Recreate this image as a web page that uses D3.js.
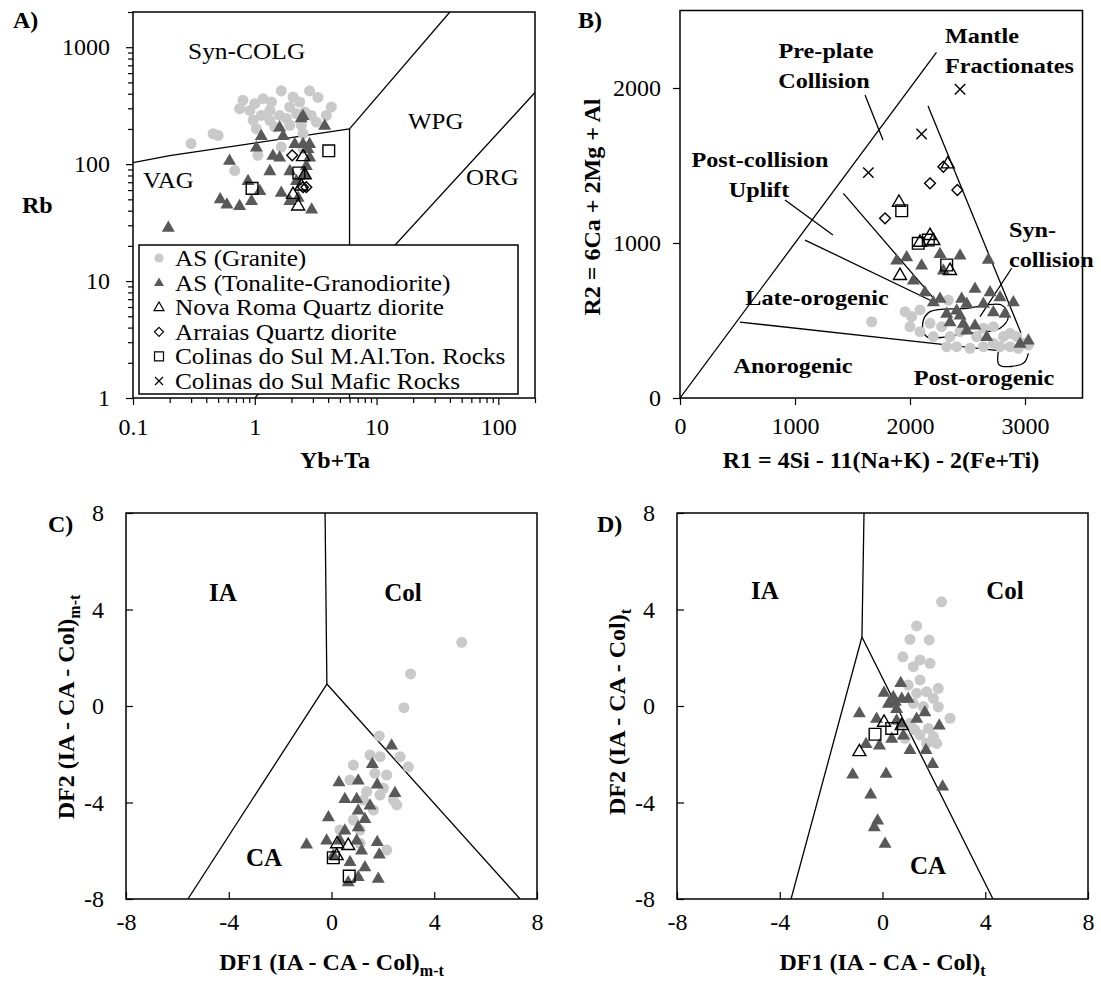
<!DOCTYPE html>
<html>
<head>
<meta charset="utf-8">
<script src="https://cdn.jsdelivr.net/npm/d3@7"></script>
<style>
  body { margin: 0; background: #fff; }
  svg text { font-family: "Liberation Serif", "Times New Roman", Times, serif; fill: #000; }
</style>
</head>
<body>
<svg id="fig" width="1101" height="981"></svg>
<script>
// ---------- Panel A: Rb vs Yb+Ta (Pearce et al. 1984) ----------
const aGranite = [[1.65,423],[2.82,423],[3.30,372],[0.80,351],[1.00,329],[1.17,363],[1.37,340],[2.06,375],[2.34,340],[4.25,308],[0.75,298],[0.91,288],[1.33,288],[1.13,261],[1.60,261],[1.94,308],[1.82,245],[2.20,270],[2.57,279],[2.91,261],[3.87,261],[0.97,237],[1.33,237],[1.94,215],[2.41,215],[3.20,229],[1.03,201],[1.46,208],[2.49,182],[0.455,182],[0.50,176],[0.30,150],[1.65,140],[1.06,119],[0.685,88],[2.49,136]];
const aTonalite = [[2.49,261],[2.41,249],[1.60,208],[3.75,215],[1.13,176],[1.71,176],[1.03,140],[2.13,150],[2.49,150],[2.82,150],[2.73,136],[1.41,119],[1.60,115],[0.62,108],[2.82,115],[1.33,88],[1.94,88],[2.65,97.5],[0.88,72.6],[2.57,82.7],[2.20,72.6],[1.10,59.5],[1.65,57.5],[0.94,48.9],[0.52,50.5],[0.59,45.7],[0.75,44.3],[1.94,48.9],[2.27,52.2],[2.93,41.4],[0.195,28.9]];
const aNovaRoma = [[2.49,117],[2.57,82],[2.06,55.7],[2.27,44.3],[2.41,65.6]];
const aArraias = [[2.03,119],[2.65,63.5],[2.49,63.5]];
const aColinasTon = [[4.05,130],[0.95,62],[2.3,84]];
const aBoundaries = [
  [[0.1,103],[0.2,118],[6,200]],
  [[6,200],[6,1]],
  [[6,200],[40,2000]],
  [[1,1],[200,410]]
];
const aXMajor = [0.1, 1, 10, 100];
const aYMajor = [1, 10, 100, 1000];

// ---------- Panel B: R1-R2 (Batchelor & Bowden 1985) ----------
const bGranite = [[1667,492],[1957,557],[2014,525],[2087,568],[2000,460],[2087,428],[2174,482],[2333,632],[2275,460],[2348,396],[2435,428],[2319,331],[2406,331],[2522,321],[2638,331],[2725,353],[2812,396],[2870,417],[2928,396],[2986,353],[2783,331],[2870,331],[2942,321],[2638,450],[2725,460],[2203,396],[2580,396],[3029,342]];
const bTonalite = [[1884,890],[1971,912],[2101,858],[2261,933],[2435,923],[2681,895],[2029,761],[2130,686],[2290,826],[2261,643],[2449,643],[2565,708],[2696,686],[2783,654],[2899,621],[2826,546],[2319,546],[2435,535],[2348,492],[2464,482],[2565,471],[2493,439],[2667,396],[2638,611],[2493,611],[2725,557],[3029,374],[2957,353],[2203,621],[2406,568]];
const bNovaRoma = [[2328,1514],[1904,1266],[2174,1052],[2087,1008],[2203,1019],[1913,794],[2348,826]];
const bArraias = [[2290,1492],[2174,1385],[2412,1342],[1783,1159]];
const bColinasTon = [[1928,1208],[2072,998],[2159,1019],[2319,858]];
const bMafic = [[2435,1992],[2101,1703],[1638,1454]];
const bBoundaries = [
  [[0,0],[2230,2230]],
  [[2157,1884],[2965,419]],
  [[1420,1320],[2210,640]],
  [[1087,1019],[2203,621]],
  [[520,490],[2200,352],[2770,305]],
  [[1609,1955],[1765,1665]],
  [[913,1277],[1330,1052]],
  [[2609,525],[2884,837]]
];
const bSynLoop = [[2174,557],[2493,578],[2797,600],[2855,525],[2783,450],[2493,417],[2145,396],[2110,482]];
const bPostLoop = [[2768,299],[2777,213],[2986,224],[3029,288]];
const bXTicks = [0, 1000, 2000, 3000];
const bYTicks = [0, 1000, 2000];

// ---------- Panel C: DF1-DF2 (IA-CA-Col) m-t ----------
const cGranite = [[5.07,2.64],[3.08,1.33],[2.82,-0.07],[1.86,-1.24],[1.50,-2.03],[1.89,-2.10],[0.85,-2.45],[2.67,-2.10],[2.99,-2.52],[2.15,-2.86],[1.69,-2.79],[0.72,-3.07],[1.37,-3.55],[1.89,-3.69],[2.41,-3.90],[2.54,-4.10],[1.63,-4.31],[1.24,-3.90],[0.85,-4.73],[1.11,-5.14],[0.33,-5.14],[1.11,-5.69],[2.15,-5.97],[2.02,-3.41]];
const cTonalite = [[2.34,-1.62],[1.59,-2.38],[0.29,-3.14],[1.04,-3.07],[1.78,-3.23],[2.47,-3.59],[0.52,-3.83],[0.98,-3.83],[1.50,-4.10],[1.04,-4.31],[1.30,-4.66],[1.04,-5.00],[-0.12,-4.59],[0.52,-5.14],[-0.97,-5.72],[-0.19,-5.55],[0.33,-5.55],[0.98,-5.55],[1.78,-5.62],[1.17,-5.97],[1.86,-6.13],[0.72,-6.45],[1.30,-6.66],[1.04,-7.07],[1.82,-7.14],[0.65,-7.28],[0.07,-6.18]];
const cNovaRoma = [[0.22,-5.69],[0.65,-5.76],[0.20,-6.18]];
const cColinasTon = [[0.07,-6.29],[0.69,-7.05]];
const cBoundaries = [
  [[-0.25,8],[-0.18,0.91]],
  [[-0.18,0.91],[-5.59,-8]],
  [[-0.18,0.91],[7.34,-8]]
];

// ---------- Panel D: DF1-DF2 (IA-CA-Col) t ----------
const dGranite = [[2.30,4.32],[1.33,3.32],[1.07,2.76],[1.82,2.74],[0.79,2.04],[1.46,1.91],[1.20,1.63],[1.85,1.77],[1.46,1.08],[1.00,0.87],[2.17,0.73],[1.33,0.53],[1.72,0.59],[1.98,0.32],[1.20,0.11],[1.59,-0.03],[2.17,-0.03],[2.63,-0.51],[1.07,-0.72],[1.79,-0.93],[1.46,-1.20],[0.88,-1.34],[1.98,-1.27],[2.11,-1.55],[1.72,-1.55],[1.26,-0.99]];
const dTonalite = [[0.71,0.97],[0.06,0.57],[0.42,0.39],[0.75,0.32],[1.00,0.32],[0.23,0.11],[0.50,0.20],[-0.90,-0.28],[-0.23,-0.51],[0.55,-0.58],[1.33,-0.51],[1.65,-0.24],[2.21,-0.79],[0.36,-1.34],[0.81,-1.20],[-0.64,-1.55],[-0.12,-1.62],[1.07,-1.80],[1.69,-1.80],[1.95,-2.38],[-1.16,-2.82],[0.14,-2.79],[2.34,-3.32],[-0.46,-3.65],[-0.19,-4.73],[-0.32,-5.00],[0.10,-5.69],[0.75,-0.70],[0.55,-0.10]];
const dNovaRoma = [[0.06,-0.65],[0.75,-0.79],[-0.90,-1.87]];
const dColinasTon = [[-0.29,-1.17],[0.36,-0.93]];
const dBoundaries = [
  [[-0.72,8],[-0.80,2.86]],
  [[-0.80,2.86],[-3.56,-8]],
  [[-0.80,2.86],[4.30,-8]]
];
const dfTicks = [-8, -4, 0, 4, 8];

const legendItems = [
  ["granite", "AS (Granite)"],
  ["tonalite", "AS (Tonalite-Granodiorite)"],
  ["openTri", "Nova Roma Quartz diorite"],
  ["diamond", "Arraias Quartz diorite"],
  ["square", "Colinas do Sul M.Al.Ton. Rocks"],
  ["cross", "Colinas do Sul Mafic Rocks"]
];

// ---------- helpers ----------
const svg = d3.select("#fig");
const INK = "#000";
const GRANITE = "#c9c9c9";
const TONALITE = "#595959";
const plain = d => String(d);   // keeps the ASCII hyphen for negative ticks

function shape(kind, s) {
  const h = s * 0.866;
  switch (kind) {
    case "granite": { const r = s * 0.46; return `M${r},0A${r},${r} 0 1,1 ${-r},0A${r},${r} 0 1,1 ${r},0Z`; }
    case "tonalite":
    case "openTri": return `M0,${-h * 0.6}L${s / 2},${h * 0.4}L${-s / 2},${h * 0.4}Z`;
    case "diamond": { const r = s * 0.45; return `M0,${-r}L${r},0L0,${r}L${-r},0Z`; }
    case "square": { const r = s * 0.45; return `M${-r},${-r}H${r}V${r}H${-r}Z`; }
    case "cross": { const r = s * 0.4; return `M${-r},${-r}L${r},${r}M${-r},${r}L${r},${-r}`; }
  }
}
function styleMark(sel, kind) {
  if (kind === "granite") sel.attr("fill", GRANITE).attr("stroke", "none");
  else if (kind === "tonalite") sel.attr("fill", TONALITE).attr("stroke", "none");
  else sel.attr("fill", "none").attr("stroke", INK).attr("stroke-width", 1.4);
}
function marks(g, data, x, y, kind, s) {
  const sel = g.append("g").selectAll("path").data(data).join("path")
    .attr("transform", d => `translate(${x(d[0])},${y(d[1])})`)
    .attr("d", shape(kind, s));
  styleMark(sel, kind);
}
function lines(g, sets, x, y, curve) {
  const gen = d3.line().x(d => x(d[0])).y(d => y(d[1])).curve(curve || d3.curveLinear);
  g.append("g").selectAll("path").data(sets).join("path")
    .attr("d", gen).attr("fill", "none").attr("stroke", INK).attr("stroke-width", 1.3);
}
function label(g, x, y, str, o = {}) {
  return g.append("text")
    .attr("transform", `translate(${x},${y})` + (o.rotate ? ` rotate(${o.rotate})` : "") + (o.sx ? ` scale(${o.sx},1)` : ""))
    .attr("font-size", o.size || 24)
    .attr("font-weight", o.bold ? "bold" : "normal")
    .attr("text-anchor", o.anchor || "start")
    .text(str);
}
function styleAxis(g) {
  g.attr("font-family", null).attr("font-size", 24);
  g.select(".domain").remove();
  g.selectAll(".tick line").attr("stroke", INK).attr("stroke-width", 1.2);
  g.selectAll(".tick text").attr("fill", INK);
}
function frame(g, x0, y0, x1, y1) {
  g.append("rect").attr("x", x0).attr("y", y0).attr("width", x1 - x0).attr("height", y1 - y0)
    .attr("fill", "none").attr("stroke", INK).attr("stroke-width", 1.5);
}
function clipTo(id, x0, y0, x1, y1) {
  svg.append("clipPath").attr("id", id).append("rect")
    .attr("x", x0).attr("y", y0).attr("width", x1 - x0).attr("height", y1 - y0);
}

// ================= Panel A =================
(function () {
  const L = 133, R = 535, T = 12, B = 398;
  const x = d3.scaleLog().domain([0.1, 200]).range([L, R]);
  const y = d3.scaleLog().domain([1, 2000]).range([B, T]);
  const g = svg.append("g");
  clipTo("clipA", L, T, R, B);

  const minor = (lo, hi) => {
    const out = [];
    for (let dec = lo; dec < hi; dec *= 10)
      for (let k = 2; k <= 9; k++) if (k * dec <= hi * 1.0001) out.push(k * dec);
    return out;
  };
  g.append("g").attr("transform", `translate(0,${B})`)
    .call(d3.axisBottom(x).tickValues(minor(0.1, 200)).tickSize(5).tickFormat(""))
    .call(styleAxis);
  g.append("g").attr("transform", `translate(0,${B})`)
    .call(d3.axisBottom(x).tickValues(aXMajor).tickSize(7).tickPadding(13).tickFormat(d3.format("~g")))
    .call(styleAxis);
  g.append("g").attr("transform", `translate(${L},0)`)
    .call(d3.axisLeft(y).tickValues(minor(1, 2000)).tickSize(5).tickFormat(""))
    .call(styleAxis);
  g.append("g").attr("transform", `translate(${L},0)`)
    .call(d3.axisLeft(y).tickValues(aYMajor).tickSize(7).tickPadding(16).tickFormat(d3.format("~g")))
    .call(styleAxis);

  const inner = g.append("g").attr("clip-path", "url(#clipA)");
  lines(inner, aBoundaries, x, y);
  marks(inner, aGranite, x, y, "granite", 12);
  marks(inner, aTonalite, x, y, "tonalite", 13);
  marks(inner, aNovaRoma, x, y, "openTri", 13);
  marks(inner, aArraias, x, y, "diamond", 12);
  marks(inner, aColinasTon, x, y, "square", 13);

  label(g, 188, 59, "Syn-COLG", { size: 24, sx: 1.06 });
  label(g, 408, 129, "WPG", { size: 24, sx: 1.04 });
  label(g, 466, 185, "ORG", { size: 24, sx: 1.04 });
  label(g, 143, 188, "VAG", { size: 24, sx: 1.04 });

  // legend
  const lg = g.append("g");
  lg.append("rect").attr("x", 139).attr("y", 245).attr("width", 379).attr("height", 149)
    .attr("fill", "#fff").attr("stroke", INK).attr("stroke-width", 1.5);
  legendItems.forEach(([kind, text], i) => {
    const cy = 258 + i * 24.6;
    const m = lg.append("path").attr("transform", `translate(159,${cy})`).attr("d", shape(kind, 10));
    styleMark(m, kind);
    if (kind !== "granite" && kind !== "tonalite") m.attr("stroke-width", 1.2);
    label(lg, 175, cy + 8, text, { size: 23, sx: 1.1 });
  });

  frame(g, L, T, R, B);
  label(g, 13, 28, "A)", { size: 24, bold: true });
  label(g, 22, 213, "Rb", { size: 24, bold: true });
  label(g, (L + R) / 2 + 1, 468, "Yb+Ta", { size: 24, bold: true, anchor: "middle" });
})();

// ================= Panel B =================
(function () {
  const L = 680, R = 1082.5, T = 10.5, B = 398;
  const x = d3.scaleLinear().domain([0, 3500]).range([L, R]);
  const y = d3.scaleLinear().domain([0, 2500]).range([B, T]);
  const g = svg.append("g");
  clipTo("clipB", L, T, R, B);

  g.append("g").attr("transform", `translate(0,${B})`)
    .call(d3.axisBottom(x).tickValues(bXTicks).tickSize(7).tickPadding(12).tickFormat(plain))
    .call(styleAxis);
  g.append("g").attr("transform", `translate(${L},0)`)
    .call(d3.axisLeft(y).tickValues(bYTicks).tickSize(7).tickPadding(12).tickFormat(plain))
    .call(styleAxis);

  const inner = g.append("g").attr("clip-path", "url(#clipB)");
  lines(inner, bBoundaries, x, y);
  lines(inner, [bSynLoop], x, y, d3.curveCatmullRomClosed);
  lines(inner, [bPostLoop], x, y, d3.curveCatmullRom);
  marks(inner, bGranite, x, y, "granite", 12);
  marks(inner, bTonalite, x, y, "tonalite", 13);
  marks(inner, bNovaRoma, x, y, "openTri", 13);
  marks(inner, bArraias, x, y, "diamond", 12);
  marks(inner, bColinasTon, x, y, "square", 13);
  marks(inner, bMafic, x, y, "cross", 13);

  const o = { size: 22, bold: true, sx: 1.1 };
  label(g, 826, 58, "Pre-plate", { ...o, anchor: "middle" });
  label(g, 824, 88, "Collision", { ...o, anchor: "middle" });
  label(g, 945, 43, "Mantle", o);
  label(g, 945, 73, "Fractionates", o);
  label(g, 760, 167, "Post-collision", { ...o, anchor: "middle" });
  label(g, 759, 197, "Uplift", { ...o, anchor: "middle" });
  label(g, 1009, 237, "Syn-", o);
  label(g, 1009, 267, "collision", o);
  label(g, 817, 305, "Late-orogenic", { ...o, anchor: "middle" });
  label(g, 793, 373, "Anorogenic", { ...o, anchor: "middle" });
  label(g, 984, 385, "Post-orogenic", { ...o, anchor: "middle" });

  frame(g, L, T, R, B);
  label(g, 578, 28, "B)", { size: 24, bold: true });
  label(g, 600, 207, "R2 = 6Ca + 2Mg + Al", { size: 24, bold: true, anchor: "middle", rotate: -90 });
  label(g, 881, 468, "R1 = 4Si - 11(Na+K) - 2(Fe+Ti)", { size: 24, bold: true, anchor: "middle" });
})();

// ================= Panels C and D =================
function dfPanel(o) {
  const x = d3.scaleLinear().domain([-8, 8]).range([o.L, o.R]);
  const y = d3.scaleLinear().domain([-8, 8]).range([o.B, o.T]);
  const g = svg.append("g");
  clipTo(o.id, o.L, o.T, o.R, o.B);

  g.append("g").attr("transform", `translate(0,${o.B})`)
    .call(d3.axisBottom(x).tickValues(dfTicks).tickSizeInner(-7).tickSizeOuter(0).tickPadding(14).tickFormat(plain))
    .call(styleAxis);
  g.append("g").attr("transform", `translate(${o.L},0)`)
    .call(d3.axisLeft(y).tickValues(dfTicks).tickSizeInner(-7).tickSizeOuter(0).tickPadding(22).tickFormat(plain))
    .call(styleAxis);

  const inner = g.append("g").attr("clip-path", `url(#${o.id})`);
  lines(inner, o.bounds, x, y);
  marks(inner, o.granite, x, y, "granite", 12);
  marks(inner, o.tonalite, x, y, "tonalite", 13);
  marks(inner, o.nova, x, y, "openTri", 13);
  marks(inner, o.colinas, x, y, "square", 13);

  const lo = { size: 25, bold: true, anchor: "middle" };
  label(g, o.ia[0], o.ia[1], "IA", lo);
  label(g, o.col[0], o.col[1], "Col", lo);
  label(g, o.ca[0], o.ca[1], "CA", lo);

  frame(g, o.L, o.T, o.R, o.B);
  label(g, o.tag[0], o.tag[1], o.tagText, { size: 24, bold: true });

  const xt = g.append("text").attr("x", (o.L + o.R) / 2).attr("y", 970)
    .attr("text-anchor", "middle").attr("font-size", 24).attr("font-weight", "bold");
  xt.append("tspan").text("DF1 (IA - CA - Col)");
  xt.append("tspan").attr("font-size", 16).attr("dy", 6).text(o.sub);

  const yt = g.append("text").attr("transform", `translate(${o.ytX},${o.ytY}) rotate(-90)`)
    .attr("text-anchor", "middle").attr("font-size", 24).attr("font-weight", "bold");
  yt.append("tspan").text("DF2 (IA - CA - Col)");
  yt.append("tspan").attr("font-size", 16).attr("dy", 6).text(o.sub);
}

dfPanel({
  id: "clipC", L: 126, R: 537, T: 513, B: 899,
  granite: cGranite, tonalite: cTonalite, nova: cNovaRoma, colinas: cColinasTon, bounds: cBoundaries,
  ia: [223, 601], col: [403, 601], ca: [264, 866],
  tag: [48, 532], tagText: "C)", sub: "m-t", ytX: 74, ytY: 707
});
dfPanel({
  id: "clipD", L: 677, R: 1088, T: 513, B: 899,
  granite: dGranite, tonalite: dTonalite, nova: dNovaRoma, colinas: dColinasTon, bounds: dBoundaries,
  ia: [765, 599], col: [1005, 599], ca: [928, 874],
  tag: [597, 532], tagText: "D)", sub: "t", ytX: 625, ytY: 712
});
</script>
</body>
</html>
